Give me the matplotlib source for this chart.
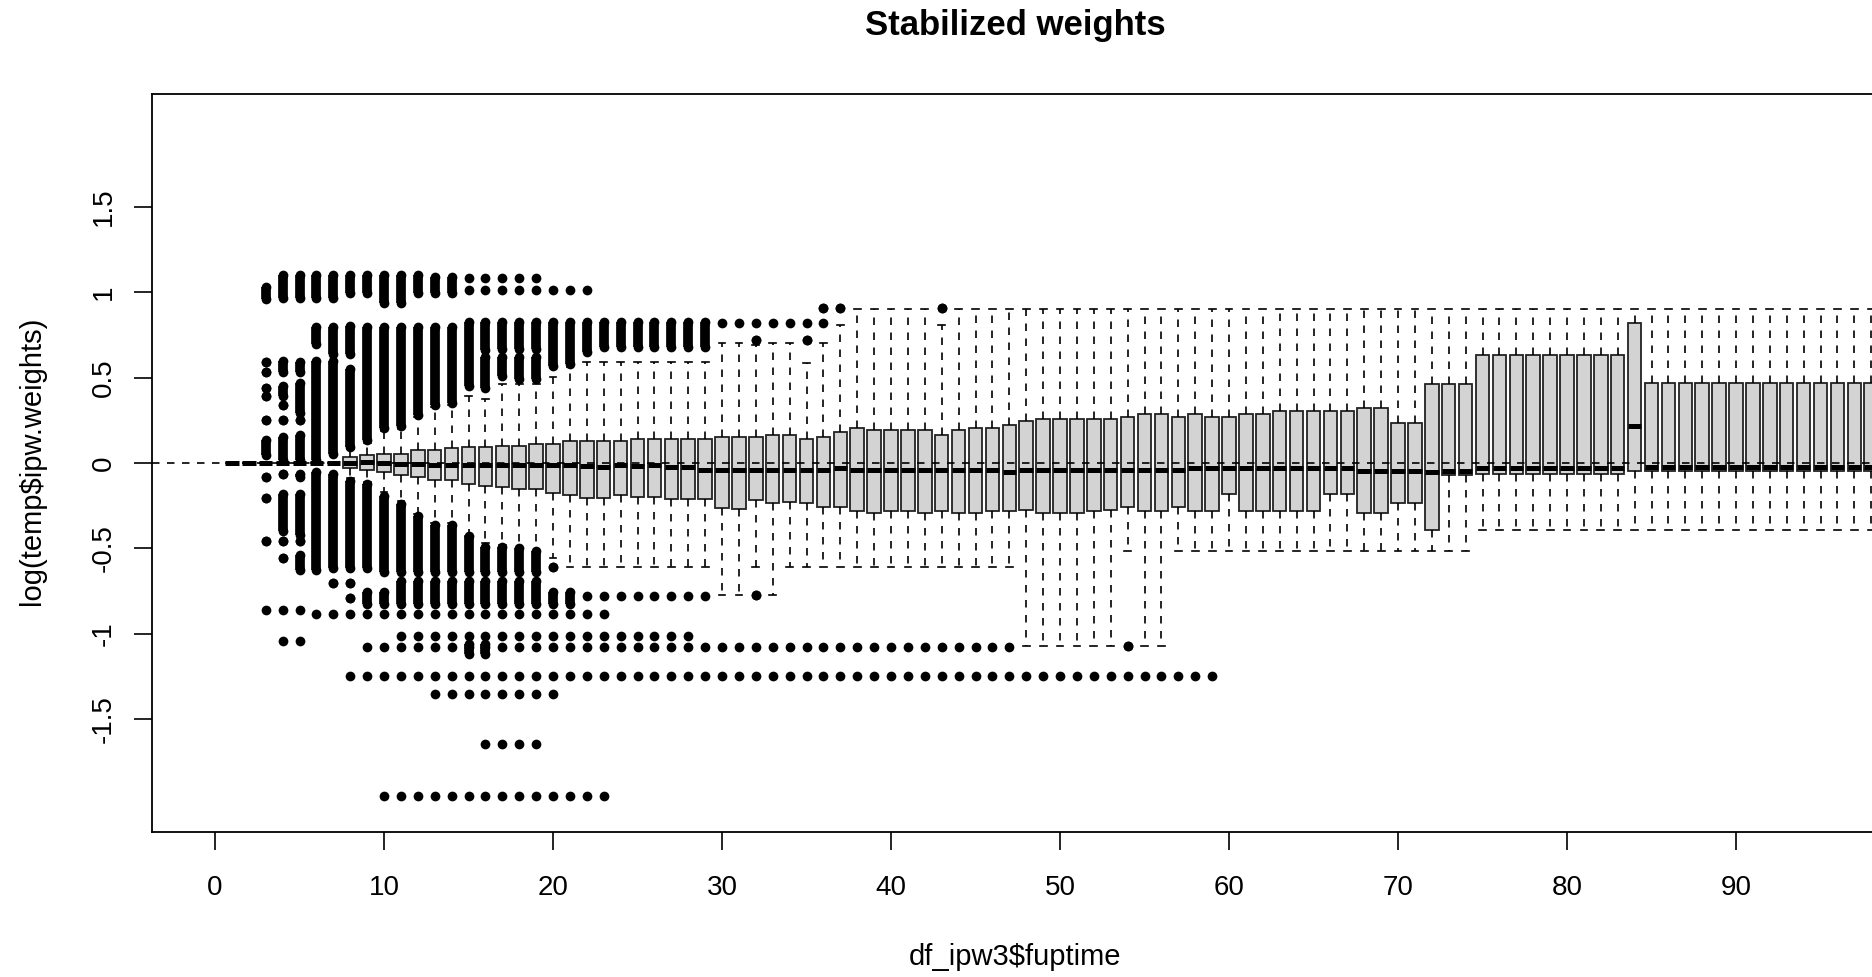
import matplotlib.pyplot as plt

plt.rcParams['font.family'] = ['Liberation Sans', 'DejaVu Sans']

# follow-up time (box positions)
fuptime = list(range(1, 99))

# box statistics of log(ipw weights)
q1 = [0, 0, 0, 0, 0, 0, 0, -0.03, -0.04, -0.051,
      -0.072, -0.082, -0.097, -0.10, -0.124, -0.137, -0.14, -0.15, -0.155, -0.174,
      -0.185, -0.206, -0.206, -0.187, -0.197, -0.197, -0.208, -0.208, -0.208, -0.266,
      -0.27, -0.214, -0.235, -0.23, -0.235, -0.26, -0.26, -0.281, -0.291, -0.281,
      -0.281, -0.291, -0.281, -0.291, -0.291, -0.281, -0.281, -0.277, -0.291, -0.291,
      -0.291, -0.281, -0.277, -0.26, -0.281, -0.281, -0.255, -0.281, -0.281, -0.182,
      -0.281, -0.281, -0.281, -0.281, -0.281, -0.182, -0.182, -0.291, -0.291, -0.235,
      -0.235, -0.39, -0.073, -0.073, -0.067, -0.067, -0.067, -0.067, -0.067, -0.067,
      -0.067, -0.063, -0.063, -0.047, -0.047, -0.047, -0.047, -0.047, -0.047, -0.047,
      -0.047, -0.047, -0.047, -0.047, -0.047, -0.047, -0.047, -0.047]
med = [0, 0, 0, 0, 0, 0, 0, 0, 0.005, 0,
       -0.008, -0.008, -0.01, -0.01, -0.014, -0.014, -0.014, -0.012, -0.014, -0.014,
       -0.014, -0.02, -0.024, -0.014, -0.02, -0.014, -0.024, -0.024, -0.04, -0.04,
       -0.04, -0.04, -0.04, -0.04, -0.04, -0.04, -0.03, -0.04, -0.04, -0.04,
       -0.04, -0.04, -0.04, -0.04, -0.04, -0.04, -0.053, -0.04, -0.04, -0.04,
       -0.04, -0.04, -0.04, -0.04, -0.04, -0.04, -0.04, -0.03, -0.03, -0.03,
       -0.03, -0.03, -0.03, -0.03, -0.03, -0.03, -0.03, -0.044, -0.044, -0.044,
       -0.044, -0.053, -0.044, -0.044, -0.03, -0.03, -0.03, -0.03, -0.03, -0.03,
       -0.03, -0.027, -0.027, 0.214, -0.024, -0.024, -0.024, -0.024, -0.024, -0.024,
       -0.024, -0.024, -0.024, -0.024, -0.024, -0.024, -0.024, -0.024]
q3 = [0, 0, 0, 0, 0, 0, 0, 0.037, 0.047, 0.053,
      0.055, 0.074, 0.074, 0.085, 0.091, 0.091, 0.098, 0.098, 0.11, 0.11,
      0.127, 0.127, 0.127, 0.127, 0.141, 0.141, 0.141, 0.141, 0.141, 0.152,
      0.152, 0.152, 0.162, 0.162, 0.141, 0.152, 0.179, 0.204, 0.194, 0.194,
      0.194, 0.194, 0.162, 0.194, 0.204, 0.204, 0.225, 0.246, 0.256, 0.256,
      0.256, 0.256, 0.256, 0.267, 0.289, 0.289, 0.267, 0.289, 0.267, 0.267,
      0.289, 0.289, 0.307, 0.307, 0.307, 0.303, 0.303, 0.322, 0.322, 0.233,
      0.233, 0.465, 0.465, 0.465, 0.633, 0.633, 0.633, 0.633, 0.633, 0.633,
      0.633, 0.633, 0.633, 0.817, 0.471, 0.471, 0.471, 0.471, 0.471, 0.471,
      0.471, 0.471, 0.471, 0.471, 0.471, 0.471, 0.471, 0.471]
wlo = [0, 0, 0, 0, 0, 0, 0, -0.09, -0.11, -0.17,
       -0.22, -0.30, -0.35, -0.35, -0.43, -0.469, -0.48, -0.50, -0.518, -0.554,
       -0.611, -0.611, -0.611, -0.611, -0.611, -0.611, -0.611, -0.611, -0.611, -0.771,
       -0.771, -0.611, -0.771, -0.611, -0.611, -0.611, -0.611, -0.611, -0.611, -0.611,
       -0.611, -0.611, -0.611, -0.611, -0.611, -0.611, -0.611, -1.072, -1.072, -1.072,
       -1.072, -1.072, -1.072, -0.514, -1.072, -1.072, -0.514, -0.514, -0.514, -0.514,
       -0.514, -0.514, -0.514, -0.514, -0.514, -0.514, -0.514, -0.514, -0.514, -0.514,
       -0.514, -0.514, -0.514, -0.514, -0.39, -0.39, -0.39, -0.39, -0.39, -0.39,
       -0.39, -0.39, -0.39, -0.39, -0.39, -0.39, -0.39, -0.39, -0.39, -0.39,
       -0.39, -0.39, -0.39, -0.39, -0.39, -0.39, -0.39, -0.39]
whi = [0, 0, 0, 0, 0, 0, 0, 0.08, 0.12, 0.19,
       0.20, 0.27, 0.33, 0.34, 0.39, 0.376, 0.46, 0.46, 0.46, 0.506,
       0.56, 0.589, 0.589, 0.589, 0.589, 0.589, 0.589, 0.589, 0.589, 0.705,
       0.705, 0.69, 0.705, 0.705, 0.586, 0.705, 0.806, 0.902, 0.902, 0.902,
       0.902, 0.902, 0.806, 0.902, 0.902, 0.902, 0.902, 0.902, 0.902, 0.902,
       0.902, 0.902, 0.902, 0.902, 0.902, 0.902, 0.902, 0.902, 0.902, 0.902,
       0.902, 0.902, 0.902, 0.902, 0.902, 0.902, 0.902, 0.902, 0.902, 0.902,
       0.902, 0.902, 0.902, 0.902, 0.902, 0.902, 0.902, 0.902, 0.902, 0.902,
       0.902, 0.902, 0.902, 0.902, 0.902, 0.902, 0.902, 0.902, 0.902, 0.902,
       0.902, 0.902, 0.902, 0.902, 0.902, 0.902, 0.902, 0.902]

# outliers: column, lowest, highest (a stack of overlapping dots; lo == hi is one dot)
out_x = [3, 3, 3, 3, 3, 3, 3,
         4, 4, 4, 4, 4, 4,
         5, 5, 5, 5, 5,
         6, 6, 6, 7, 7, 7, 8, 8, 8,
         9, 9, 10, 10, 11, 11, 12, 12, 13, 13, 14, 14,
         15, 16, 16, 17, 17, 18, 18, 19, 19, 20, 21, 22,
         23, 24, 25, 26, 27, 28, 29,
         32, 35, 36, 37, 43,
         3, 3, 3, 4, 4, 4, 4, 5, 5, 5, 5,
         6, 7, 8, 9, 10, 11, 12, 13, 14, 15, 16, 17, 18, 19, 20,
         7, 8, 8, 9, 10, 20, 21,
         11, 12, 13, 14, 15, 16, 17, 18, 19,
         32, 15, 16, 54]
out_lo = [0.96, 0.589, 0.53, 0.441, 0.392, 0.253, 0.045,
          0.965, 0.53, 0.39, 0.342, 0.253, 0.016,
          0.965, 0.53, 0.29, 0.253, 0.016,
          0.965, 0.698, 0.016, 0.965, 0.639, 0.055, 0.995, 0.64, 0.095,
          0.995, 0.134, 0.936, 0.204, 0.936, 0.214, 0.995, 0.283, 0.995, 0.342, 0.995, 0.352,
          0.451, 0.659, 0.441, 0.669, 0.51, 0.669, 0.491, 0.669, 0.491, 0.57, 0.58, 0.649,
          0.678, 0.678, 0.678, 0.678, 0.678, 0.678, 0.678,
          0.722, 0.722, 0.906, 0.906, 0.906,
          -0.083, -0.202, -0.459, -0.063, -0.40, -0.459, -0.558, -0.083, -0.419, -0.459, -0.627,
          -0.627, -0.617, -0.617, -0.617, -0.637, -0.637, -0.637, -0.637, -0.637, -0.637, -0.637,
          -0.637, -0.637, -0.637, -0.607,
          -0.70, -0.70, -0.79, -0.827, -0.827, -0.827, -0.827,
          -0.827, -0.827, -0.827, -0.827, -0.827, -0.827, -0.827, -0.827, -0.827,
          -0.772, -1.12, -1.12, -1.072]
out_hi = [1.03, 0.589, 0.53, 0.441, 0.392, 0.253, 0.134,
          1.10, 0.60, 0.45, 0.342, 0.253, 0.154,
          1.10, 0.59, 0.47, 0.253, 0.164,
          1.10, 0.797, 0.60, 1.10, 0.797, 0.60, 1.10, 0.80, 0.55,
          1.10, 0.797, 1.10, 0.797, 1.10, 0.797, 1.10, 0.797, 1.09, 0.797, 1.09, 0.797,
          0.827, 0.827, 0.619, 0.827, 0.619, 0.827, 0.619, 0.827, 0.619, 0.827, 0.827, 0.827,
          0.827, 0.827, 0.827, 0.827, 0.827, 0.827, 0.827,
          0.722, 0.722, 0.906, 0.906, 0.906,
          -0.083, -0.202, -0.459, -0.063, -0.182, -0.459, -0.558, -0.063, -0.182, -0.459, -0.538,
          -0.053, -0.063, -0.103, -0.123, -0.192, -0.241, -0.311, -0.36, -0.36, -0.43, -0.489,
          -0.489, -0.498, -0.518, -0.607,
          -0.70, -0.70, -0.79, -0.758, -0.758, -0.758, -0.758,
          -0.69, -0.69, -0.69, -0.69, -0.69, -0.69, -0.69, -0.69, -0.69,
          -0.772, -1.06, -1.06, -1.072]

# outliers repeated at the same value over a run of columns
row_y = [1.084, 1.015, 0.817, -0.78, -0.862, -0.882, -1.042, -1.012, -1.075,
         -1.246, -1.354, -1.642, -1.949]
row_from = [15, 15, 30, 22, 3, 6, 4, 11, 9, 8, 13, 16, 10]
row_to = [19, 22, 36, 29, 5, 23, 5, 28, 47, 59, 20, 19, 23]

xticks = [0, 10, 20, 30, 40, 50, 60, 70, 80, 90]
yticks = [-1.5, -1, -0.5, 0, 0.5, 1, 1.5]
ylabs = ['-1.5', '-1', '-0.5', '0', '0.5', '1', '1.5']

fig = plt.figure(figsize=(18.72, 9.77), dpi=100)
ax = fig.add_axes([152 / 1872, 1 - 832 / 977, 1726 / 1872, 738 / 977])

stats = []
for i in range(len(fuptime)):
    stats.append({'med': med[i], 'q1': q1[i], 'q3': q3[i],
                  'whislo': wlo[i], 'whishi': whi[i], 'fliers': []})

ax.bxp(stats, positions=fuptime, widths=0.8, capwidths=0.4, patch_artist=True,
       showfliers=False, manage_ticks=False, zorder=2,
       boxprops=dict(facecolor='#d3d3d3', edgecolor='#222222', linewidth=1.3),
       medianprops=dict(color='black', linewidth=3.6, solid_capstyle='butt'),
       whiskerprops=dict(color='black', linewidth=1.2, linestyle=(0, (4.5, 4.5))),
       capprops=dict(color='black', linewidth=1.2))

dot = 7  # dot diameter in points
px, py = [], []
bx, blo, bhi = [], [], []
for x, lo, hi in zip(out_x, out_lo, out_hi):
    px += [x, x]
    py += [lo, hi]
    if hi > lo:
        bx.append(x)
        blo.append(lo)
        bhi.append(hi)
for y, a, b in zip(row_y, row_from, row_to):
    for c in range(a, b + 1):
        px.append(c)
        py.append(y)

ax.vlines(bx, blo, bhi, colors='black', linewidth=dot, zorder=3)
ax.plot(px, py, 'o', color='black', markersize=dot, markeredgewidth=0, zorder=3)

ax.axhline(0, color='black', linewidth=1.2, linestyle=(0, (4.5, 4.5)), zorder=4)

ax.set_xlim(-3.73, 98.4)
ax.set_ylim(-2.16, 2.16)
ax.set_xticks(xticks)
ax.set_xticklabels([str(t) for t in xticks])
ax.set_yticks(yticks)
ax.set_yticklabels(ylabs, rotation=90, va='center')
ax.tick_params(length=13, width=1.2, labelsize=20, direction='out')
ax.tick_params(axis='x', pad=18)
ax.tick_params(axis='y', pad=12.5)
for s in ax.spines.values():
    s.set_linewidth(1.3)

fig.text(1015 / 1872, 1 - 9 / 977, 'Stabilized weights', ha='center', va='top',
         fontsize=25, fontweight='bold')
fig.text(1015 / 1872, 1 - 957 / 977, 'df_ipw3$fuptime', ha='center', va='center', fontsize=21)
fig.text(32.5 / 1872, 1 - 461 / 977, 'log(temp$ipw.weights)', ha='center', va='center',
         rotation=90, fontsize=21)

fig.savefig('out.png', dpi=100)
